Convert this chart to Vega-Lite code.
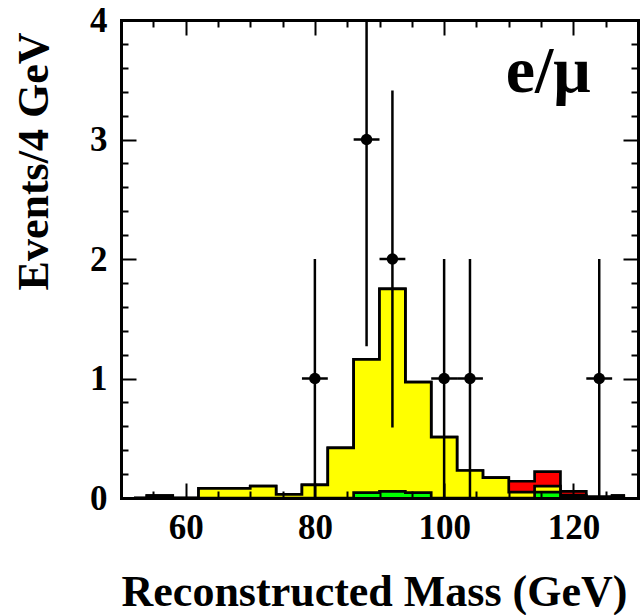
{
  "$schema": "https://vega.github.io/schema/vega-lite/v6.json",
  "width": 517,
  "height": 478,
  "autosize": "none",
  "padding": {"left": 121, "top": 20, "right": 5, "bottom": 117},
  "background": "white",
  "config": {
    "view": {"stroke": null},
    "font": "Liberation Serif",
    "axis": {
      "grid": false,
      "tickColor": "black",
      "tickWidth": 2,
      "domainColor": "black",
      "domainWidth": 3,
      "domainCap": "square",
      "labelColor": "black",
      "titleColor": "black"
    }
  },
  "datasets": {
    "hist": [
      {"m": 52, "total": 0, "bg": 0, "grn": 0},
      {"m": 56, "total": 0.02, "bg": 0.02, "grn": 0},
      {"m": 60, "total": 0, "bg": 0, "grn": 0},
      {"m": 64, "total": 0.08, "bg": 0.08, "grn": 0},
      {"m": 68, "total": 0.08, "bg": 0.08, "grn": 0},
      {"m": 72, "total": 0.1, "bg": 0.1, "grn": 0},
      {"m": 76, "total": 0.03, "bg": 0.03, "grn": 0},
      {"m": 80, "total": 0.11, "bg": 0.11, "grn": 0},
      {"m": 84, "total": 0.42, "bg": 0.42, "grn": 0},
      {"m": 88, "total": 1.16, "bg": 1.16, "grn": 0.045},
      {"m": 92, "total": 1.75, "bg": 1.75, "grn": 0.055},
      {"m": 96, "total": 0.97, "bg": 0.97, "grn": 0.045},
      {"m": 100, "total": 0.51, "bg": 0.51, "grn": 0},
      {"m": 104, "total": 0.23, "bg": 0.23, "grn": 0},
      {"m": 108, "total": 0.17, "bg": 0.17, "grn": 0},
      {"m": 112, "total": 0.14, "bg": 0.05, "grn": 0},
      {"m": 116, "total": 0.22, "bg": 0.1, "grn": 0.05},
      {"m": 120, "total": 0.055, "bg": 0.025, "grn": 0.01},
      {"m": 124, "total": 0.01, "bg": 0.01, "grn": 0},
      {"m": 128, "total": 0.02, "bg": 0.02, "grn": 0}
    ],
    "obs": [
      {"m": 80, "n": 1, "lo": 0, "hi": 2, "mlo": 78, "mhi": 82},
      {"m": 88, "n": 3, "lo": 1.27, "hi": 4.73, "mlo": 86, "mhi": 90},
      {"m": 92, "n": 2, "lo": 0.59, "hi": 3.41, "mlo": 90, "mhi": 94},
      {"m": 100, "n": 1, "lo": 0, "hi": 2, "mlo": 98, "mhi": 102},
      {"m": 104, "n": 1, "lo": 0, "hi": 2, "mlo": 102, "mhi": 106},
      {"m": 124, "n": 1, "lo": 0, "hi": 2, "mlo": 122, "mhi": 126}
    ],
    "tag": [
      {"label": "e/μ"}
    ]
  },
  "layer": [
    {
      "data": {"name": "hist"},
      "mark": {"type": "area", "interpolate": "step", "color": "#ff0000"},
      "encoding": {
        "x": {
          "field": "m", "type": "quantitative",
          "scale": {"domain": [50, 130], "nice": false, "zero": false},
          "axis": {
            "orient": "bottom", "values": [60, 80, 100, 120],
            "ticks": false, "domain": false,
            "labelFontSize": 35, "labelFontWeight": "bold", "labelPadding": 12,
            "title": "Reconstructed Mass (GeV)",
            "titleFontSize": 44, "titleFontWeight": "bold",
            "titleX": 253, "titleY": 107, "titleAlign": "center", "titleBaseline": "alphabetic"
          }
        },
        "y": {
          "field": "total", "type": "quantitative", "stack": null,
          "scale": {"domain": [0, 4], "nice": false},
          "axis": {
            "orient": "left", "values": [0, 1, 2, 3, 4],
            "ticks": false, "domain": false,
            "labelFontSize": 35, "labelFontWeight": "bold", "labelPadding": 14,
            "title": "Events/4 GeV",
            "titleFontSize": 44, "titleFontWeight": "bold", "titleAngle": -90,
            "titleX": -74, "titleY": 141, "titleAlign": "center", "titleBaseline": "alphabetic"
          }
        }
      }
    },
    {
      "data": {"name": "hist"},
      "mark": {"type": "line", "interpolate": "step", "color": "black", "strokeWidth": 2.7},
      "encoding": {
        "x": {
          "field": "m", "type": "quantitative",
          "scale": {"domain": [50, 130], "nice": false, "zero": false},
          "axis": {"orient": "bottom", "values": [60, 80, 100, 120], "tickSize": -15, "labels": false, "title": null, "domain": true, "zindex": 1}
        },
        "y": {
          "field": "total", "type": "quantitative",
          "scale": {"domain": [0, 4], "nice": false},
          "axis": {"orient": "left", "values": [0, 1, 2, 3, 4], "tickSize": -15, "labels": false, "title": null, "domain": true, "zindex": 1}
        }
      }
    },
    {
      "data": {"name": "hist"},
      "mark": {"type": "area", "interpolate": "step", "color": "#ffff00"},
      "encoding": {
        "x": {
          "field": "m", "type": "quantitative",
          "scale": {"domain": [50, 130], "nice": false, "zero": false},
          "axis": {"orient": "bottom", "values": [55, 65, 70, 75, 85, 90, 95, 105, 110, 115, 125], "tickSize": -7, "labels": false, "title": null, "domain": false, "zindex": 1}
        },
        "y": {
          "field": "bg", "type": "quantitative", "stack": null,
          "scale": {"domain": [0, 4], "nice": false},
          "axis": {"orient": "left", "values": [0.2, 0.4, 0.6, 0.8, 1.2, 1.4, 1.6, 1.8, 2.2, 2.4, 2.6, 2.8, 3.2, 3.4, 3.6, 3.8], "tickSize": -7, "labels": false, "title": null, "domain": false, "zindex": 1}
        }
      }
    },
    {
      "data": {"name": "hist"},
      "mark": {"type": "line", "interpolate": "step", "color": "black", "strokeWidth": 2.7},
      "encoding": {
        "x": {
          "field": "m", "type": "quantitative",
          "scale": {"domain": [50, 130], "nice": false, "zero": false},
          "axis": {"orient": "top", "values": [60, 80, 100, 120], "tickSize": -15, "labels": false, "title": null, "domain": true, "zindex": 1}
        },
        "y": {
          "field": "bg", "type": "quantitative",
          "scale": {"domain": [0, 4], "nice": false},
          "axis": {"orient": "right", "values": [0, 1, 2, 3, 4], "tickSize": -15, "labels": false, "title": null, "domain": true, "zindex": 1}
        }
      }
    },
    {
      "data": {"name": "hist"},
      "mark": {"type": "area", "interpolate": "step", "color": "#00ff00"},
      "encoding": {
        "x": {
          "field": "m", "type": "quantitative",
          "scale": {"domain": [50, 130], "nice": false, "zero": false},
          "axis": {"orient": "top", "values": [55, 65, 70, 75, 85, 90, 95, 105, 110, 115, 125], "tickSize": -7, "labels": false, "title": null, "domain": false, "zindex": 1}
        },
        "y": {
          "field": "grn", "type": "quantitative", "stack": null,
          "scale": {"domain": [0, 4], "nice": false},
          "axis": {"orient": "right", "values": [0.2, 0.4, 0.6, 0.8, 1.2, 1.4, 1.6, 1.8, 2.2, 2.4, 2.6, 2.8, 3.2, 3.4, 3.6, 3.8], "tickSize": -7, "labels": false, "title": null, "domain": false, "zindex": 1}
        }
      }
    },
    {
      "data": {"name": "hist"},
      "mark": {"type": "line", "interpolate": "step", "color": "black", "strokeWidth": 2.7},
      "encoding": {
        "x": {"field": "m", "type": "quantitative", "scale": {"domain": [50, 130], "nice": false, "zero": false}, "axis": null},
        "y": {"field": "grn", "type": "quantitative", "scale": {"domain": [0, 4], "nice": false}, "axis": null}
      }
    },
    {
      "data": {"name": "obs"},
      "mark": {"type": "rule", "color": "black", "strokeWidth": 2.5, "clip": true},
      "encoding": {
        "x": {"field": "m", "type": "quantitative", "scale": {"domain": [50, 130], "nice": false, "zero": false}, "axis": null},
        "y": {"field": "lo", "type": "quantitative", "scale": {"domain": [0, 4], "nice": false}, "axis": null},
        "y2": {"field": "hi"}
      }
    },
    {
      "data": {"name": "obs"},
      "mark": {"type": "rule", "color": "black", "strokeWidth": 2.5},
      "encoding": {
        "x": {"field": "mlo", "type": "quantitative", "scale": {"domain": [50, 130], "nice": false, "zero": false}, "axis": null},
        "x2": {"field": "mhi"},
        "y": {"field": "n", "type": "quantitative", "scale": {"domain": [0, 4], "nice": false}, "axis": null}
      }
    },
    {
      "data": {"name": "obs"},
      "mark": {"type": "point", "shape": "circle", "filled": true, "color": "black", "size": 130, "opacity": 1},
      "encoding": {
        "x": {"field": "m", "type": "quantitative", "scale": {"domain": [50, 130], "nice": false, "zero": false}, "axis": null},
        "y": {"field": "n", "type": "quantitative", "scale": {"domain": [0, 4], "nice": false}, "axis": null}
      }
    },
    {
      "data": {"name": "tag"},
      "mark": {"type": "text", "fontSize": 66, "fontWeight": "bold", "color": "black", "align": "center", "baseline": "alphabetic"},
      "encoding": {
        "text": {"field": "label"},
        "x": {"datum": 116.1, "type": "quantitative", "scale": {"domain": [50, 130], "nice": false, "zero": false}, "axis": null},
        "y": {"datum": 3.4, "type": "quantitative", "scale": {"domain": [0, 4], "nice": false}, "axis": null}
      }
    }
  ],
  "resolve": {"axis": {"x": "independent", "y": "independent"}}
}
